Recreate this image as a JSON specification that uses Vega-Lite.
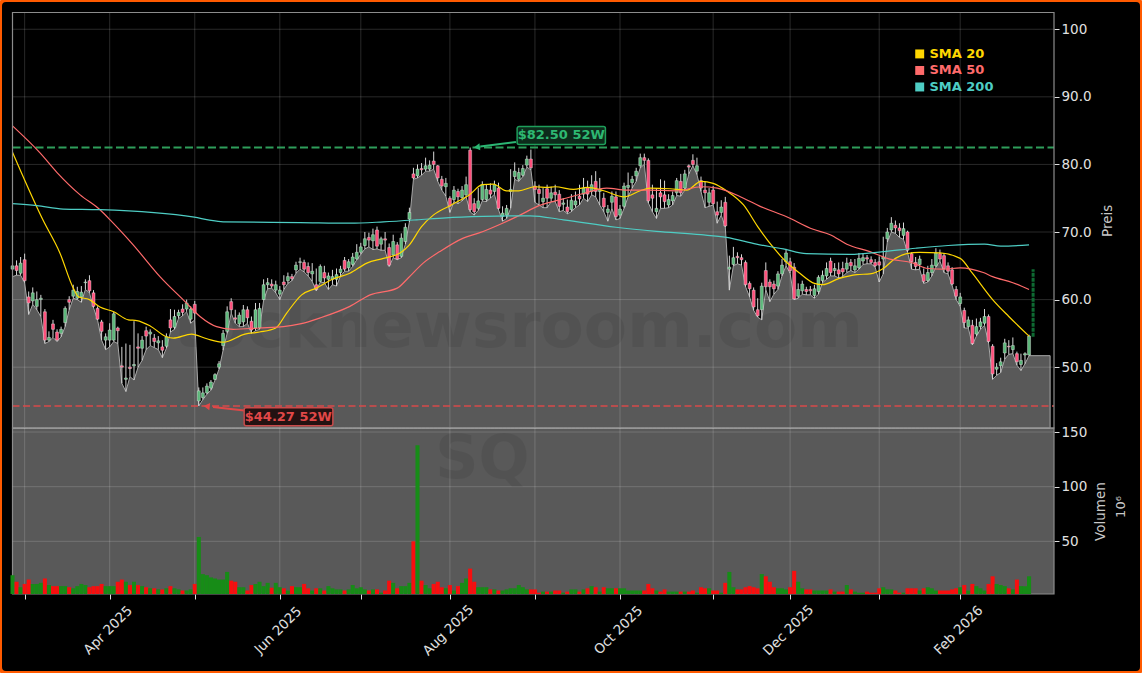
{"$schema":"https://vega.github.io/schema/vega-lite/v6.json","width":1142,"height":673,"autosize":"none","padding":0,"background":"#ffffff","view":{"fill":"#000000","stroke":"#ff5a00","strokeWidth":4,"cornerRadius":6},"config":{"font":"DejaVu Sans"},
"datasets":{"prices":[
{"i":0,"o":64.5,"h":66,"l":63.4,"c":65,"v":19},{"i":1,"o":65,"h":65.8,"l":63.6,"c":64.3,"v":13},{"i":2,"o":63.9,"h":66.3,"l":63.6,"c":65.4,"v":8},{"i":3,"o":65.9,"h":66.8,"l":62.5,"c":62.8,"v":11},{"i":4,"o":60.4,"h":61.2,"l":57.8,"c":59.5,"v":15},{"i":5,"o":59.8,"h":61.8,"l":59.3,"c":61,"v":11},{"i":6,"o":59,"h":61.2,"l":58.5,"c":60,"v":11},{"i":7,"o":60,"h":60.7,"l":57.5,"c":60.2,"v":12},{"i":8,"o":58.2,"h":58.6,"l":53.5,"c":54,"v":16},{"i":9,"o":54,"h":55.3,"l":53.8,"c":54.4,"v":10},
{"i":10,"o":56.4,"h":57,"l":54.4,"c":55.6,"v":9},{"i":11,"o":55.2,"h":55.6,"l":53.8,"c":54,"v":9},{"i":12,"o":55,"h":56,"l":54.5,"c":55.6,"v":9},{"i":13,"o":56.6,"h":59,"l":56,"c":58.7,"v":9},{"i":14,"o":60,"h":60.5,"l":58.5,"c":59.6,"v":8},{"i":15,"o":60.5,"h":62.2,"l":60.2,"c":61.4,"v":7},{"i":16,"o":60.2,"h":61.9,"l":60,"c":61.2,"v":9},{"i":17,"o":60.4,"h":62,"l":59.6,"c":61.1,"v":11},{"i":18,"o":62.5,"h":63,"l":61.5,"c":62.6,"v":10},{"i":19,"o":62.8,"h":63.6,"l":61,"c":61.3,"v":8},
{"i":20,"o":61,"h":61.4,"l":58.8,"c":59,"v":9},{"i":21,"o":58.7,"h":59,"l":57,"c":57.1,"v":9},{"i":22,"o":56.7,"h":57,"l":54,"c":55.3,"v":11},{"i":23,"o":54,"h":55,"l":52.6,"c":54.5,"v":9},{"i":24,"o":54,"h":56.5,"l":53,"c":55.5,"v":9},{"i":25,"o":54,"h":58.2,"l":53.8,"c":57.9,"v":9},{"i":26,"o":55.8,"h":56,"l":53.5,"c":55.4,"v":13},{"i":27,"o":50.2,"h":53,"l":47.6,"c":50,"v":15},{"i":28,"o":48.2,"h":53.5,"l":46.4,"c":48.4,"v":13},{"i":29,"o":50,"h":53.3,"l":48.6,"c":49.8,"v":10},
{"i":30,"o":50.2,"h":56.8,"l":48.1,"c":50.4,"v":13},{"i":31,"o":53,"h":55,"l":50,"c":52.8,"v":10},{"i":32,"o":52.8,"h":54.6,"l":51,"c":54,"v":9},{"i":33,"o":55.4,"h":56,"l":52.6,"c":54.6,"v":8},{"i":34,"o":54.9,"h":55.6,"l":53.2,"c":55.2,"v":7},{"i":35,"o":54.3,"h":54.9,"l":52.9,"c":53.8,"v":7},{"i":36,"o":53.6,"h":54.6,"l":52.6,"c":53.9,"v":6},{"i":37,"o":53,"h":54,"l":51.4,"c":52.5,"v":6},{"i":38,"o":53.1,"h":55,"l":52.8,"c":54.5,"v":7},{"i":39,"o":57,"h":58.6,"l":55.2,"c":55.8,"v":9},
{"i":40,"o":55.9,"h":58.5,"l":55.6,"c":57.5,"v":7},{"i":41,"o":57.6,"h":58.5,"l":57.2,"c":58.1,"v":6},{"i":42,"o":58.6,"h":59.3,"l":57.6,"c":58.1,"v":5},{"i":43,"o":58.6,"h":60,"l":58.2,"c":59.5,"v":5},{"i":44,"o":57.1,"h":59,"l":56.5,"c":58.6,"v":6},{"i":45,"o":59.3,"h":59.8,"l":57,"c":58,"v":11},{"i":46,"o":45,"h":47,"l":44.27,"c":46.5,"v":54},{"i":47,"o":45.5,"h":47,"l":45.2,"c":46.2,"v":20},{"i":48,"o":46.2,"h":47.6,"l":46,"c":47.2,"v":19},{"i":49,"o":46.9,"h":48.1,"l":46.6,"c":47.8,"v":17},
{"i":50,"o":48.2,"h":49.1,"l":48.1,"c":48.9,"v":16},{"i":51,"o":50,"h":50.9,"l":49.7,"c":50.5,"v":15},{"i":52,"o":53.2,"h":55.5,"l":52.5,"c":55,"v":15},{"i":53,"o":55.3,"h":59,"l":55,"c":58.2,"v":22},{"i":54,"o":59.7,"h":60.2,"l":58,"c":58.5,"v":14},{"i":55,"o":57.3,"h":58.5,"l":56.5,"c":57.1,"v":13},{"i":56,"o":56.4,"h":58.1,"l":56,"c":57.7,"v":8},{"i":57,"o":56.7,"h":59.2,"l":56,"c":58.5,"v":8},{"i":58,"o":58.5,"h":59,"l":56.5,"c":57.3,"v":5},{"i":59,"o":56.8,"h":57.5,"l":55,"c":55.5,"v":10},
{"i":60,"o":55.8,"h":59.5,"l":55.4,"c":58.5,"v":11},{"i":61,"o":55.8,"h":59.5,"l":55.6,"c":58.7,"v":13},{"i":62,"o":60,"h":63,"l":59.9,"c":62.2,"v":9},{"i":63,"o":62.2,"h":63.2,"l":61.6,"c":62.5,"v":12},{"i":64,"o":62.3,"h":63,"l":61.7,"c":62,"v":7.5},{"i":65,"o":61.4,"h":62.8,"l":61,"c":62.2,"v":12},{"i":66,"o":60.8,"h":62,"l":60,"c":61.4,"v":8},{"i":67,"o":62.6,"h":63.6,"l":61.5,"c":62.2,"v":7},{"i":68,"o":62.8,"h":64,"l":62.4,"c":63.4,"v":5},{"i":69,"o":63.4,"h":63.8,"l":62.8,"c":63.1,"v":9},
{"i":70,"o":64.4,"h":65.6,"l":63.9,"c":65.1,"v":8},{"i":71,"o":65.5,"h":66.2,"l":64.5,"c":65.6,"v":8},{"i":72,"o":65.5,"h":65.9,"l":64.1,"c":64.5,"v":11},{"i":73,"o":64.9,"h":65.5,"l":63.5,"c":64,"v":7},{"i":74,"o":63.8,"h":65.4,"l":62.7,"c":64.2,"v":5},{"i":75,"o":62.2,"h":64.6,"l":61.3,"c":61.5,"v":7},{"i":76,"o":62.7,"h":65.2,"l":62.6,"c":64.9,"v":7},{"i":77,"o":64,"h":65,"l":62.5,"c":63.2,"v":5},{"i":78,"o":63,"h":64,"l":61.5,"c":63.5,"v":9},{"i":79,"o":63,"h":64.4,"l":62.2,"c":63.4,"v":7},
{"i":80,"o":63,"h":64.6,"l":62,"c":63.7,"v":6},{"i":81,"o":64,"h":65,"l":63.5,"c":64.5,"v":6},{"i":82,"o":65.8,"h":66.3,"l":64.2,"c":64.5,"v":5},{"i":83,"o":64.7,"h":66,"l":64.2,"c":65.6,"v":6},{"i":84,"o":65.2,"h":66.9,"l":64.9,"c":66.3,"v":10},{"i":85,"o":66,"h":68.2,"l":65.9,"c":67,"v":7},{"i":86,"o":67,"h":68.4,"l":66.7,"c":67.8,"v":8},{"i":87,"o":68,"h":70,"l":67.5,"c":69,"v":6},{"i":88,"o":69.2,"h":69.9,"l":67.8,"c":68.8,"v":5},{"i":89,"o":68.7,"h":70.5,"l":67.4,"c":69.6,"v":6},
{"i":90,"o":70.3,"h":70.8,"l":67.5,"c":67.9,"v":6},{"i":91,"o":68.2,"h":69.3,"l":67.3,"c":69,"v":3},{"i":92,"o":69,"h":70,"l":67.3,"c":68.8,"v":5},{"i":93,"o":67.7,"h":68.3,"l":64.9,"c":65.1,"v":14},{"i":94,"o":66.6,"h":69.6,"l":66.2,"c":68.6,"v":12},{"i":95,"o":68.1,"h":68.5,"l":65.9,"c":66,"v":7},{"i":96,"o":66.4,"h":69.8,"l":66.2,"c":69.1,"v":9},{"i":97,"o":68.6,"h":71.3,"l":68.2,"c":70.7,"v":9},{"i":98,"o":71.9,"h":73.6,"l":71.5,"c":72.9,"v":12},{"i":99,"o":78.6,"h":79.5,"l":77.8,"c":78,"v":50},
{"i":100,"o":78.3,"h":80,"l":78,"c":79.3,"v":138},{"i":101,"o":79.4,"h":80.2,"l":78.4,"c":79.2,"v":14},{"i":102,"o":79.3,"h":81,"l":79,"c":79.8,"v":10},{"i":103,"o":79.3,"h":80.6,"l":79,"c":79.9,"v":7},{"i":104,"o":80.5,"h":81.9,"l":79.3,"c":80,"v":11},{"i":105,"o":79.8,"h":79.9,"l":77.5,"c":78,"v":13},{"i":106,"o":77.8,"h":78.3,"l":76.2,"c":76.8,"v":8},{"i":107,"o":76.7,"h":78,"l":75.3,"c":77.2,"v":7},{"i":108,"o":75,"h":75.3,"l":72.9,"c":73.8,"v":10},{"i":109,"o":74.8,"h":76.8,"l":74.5,"c":76.2,"v":5},
{"i":110,"o":76,"h":76.4,"l":74.2,"c":75.2,"v":9},{"i":111,"o":75.1,"h":76.8,"l":74.6,"c":76.2,"v":12},{"i":112,"o":75.5,"h":78.2,"l":75.2,"c":77,"v":16},{"i":113,"o":82.1,"h":82.5,"l":73,"c":73.3,"v":25},{"i":114,"o":74.2,"h":75,"l":72.5,"c":73,"v":13},{"i":115,"o":73.5,"h":76.5,"l":73.2,"c":74.6,"v":8},{"i":116,"o":74.8,"h":77.5,"l":74.6,"c":77,"v":8},{"i":117,"o":74.8,"h":77,"l":74.5,"c":76.3,"v":8},{"i":118,"o":76.2,"h":77.2,"l":75,"c":75.6,"v":6},{"i":119,"o":76,"h":77.6,"l":75.6,"c":77,"v":6},
{"i":120,"o":76.5,"h":77.3,"l":73.3,"c":73.5,"v":5},{"i":121,"o":72.3,"h":73.8,"l":71.6,"c":72.8,"v":5},{"i":122,"o":72.5,"h":74,"l":72,"c":73.5,"v":6},{"i":123,"o":76,"h":79.3,"l":73.5,"c":76.3,"v":7},{"i":124,"o":78.2,"h":80.3,"l":77.8,"c":79,"v":7},{"i":125,"o":77.8,"h":79.5,"l":77.5,"c":78.8,"v":10},{"i":126,"o":78.4,"h":79.9,"l":78.2,"c":79.4,"v":8},{"i":127,"o":79.9,"h":81.3,"l":79.6,"c":80.8,"v":6},{"i":128,"o":80.8,"h":82.2,"l":79.2,"c":79.5,"v":6},{"i":129,"o":76.8,"h":77.5,"l":74.4,"c":76.3,"v":6},
{"i":130,"o":76.3,"h":77,"l":74,"c":75.7,"v":3},{"i":131,"o":74.5,"h":76.5,"l":73.6,"c":75,"v":4},{"i":132,"o":76.4,"h":77,"l":73.6,"c":75,"v":4},{"i":133,"o":75,"h":76.7,"l":74.5,"c":75.8,"v":4},{"i":134,"o":75.9,"h":77,"l":74.5,"c":75.5,"v":5},{"i":135,"o":75.6,"h":76.2,"l":73,"c":73.8,"v":5},{"i":136,"o":74.1,"h":75,"l":73.2,"c":74.3,"v":3},{"i":137,"o":73.7,"h":74.8,"l":72.7,"c":73,"v":4},{"i":138,"o":73.3,"h":75.6,"l":73,"c":74.7,"v":6},{"i":139,"o":74,"h":76,"l":73.6,"c":74.6,"v":6},
{"i":140,"o":75.3,"h":77,"l":74,"c":74.9,"v":4},{"i":141,"o":75.6,"h":78,"l":75,"c":76.5,"v":6},{"i":142,"o":76.6,"h":77.6,"l":74.5,"c":75.6,"v":7},{"i":143,"o":76,"h":78.4,"l":75.5,"c":77,"v":9},{"i":144,"o":77.5,"h":79,"l":75.2,"c":76,"v":8},{"i":145,"o":76,"h":78,"l":74,"c":76.3,"v":4},{"i":146,"o":75,"h":75.8,"l":73,"c":73.7,"v":8},{"i":147,"o":72.9,"h":74,"l":71.6,"c":73.4,"v":7},{"i":148,"o":74.4,"h":76,"l":73.5,"c":75.3,"v":7},{"i":149,"o":75.2,"h":76,"l":71.8,"c":72.3,"v":7},
{"i":150,"o":72.5,"h":74,"l":72,"c":73.4,"v":7},{"i":151,"o":73.8,"h":77.3,"l":73.5,"c":76.8,"v":7},{"i":152,"o":76.6,"h":78.8,"l":75.2,"c":76.9,"v":5},{"i":153,"o":77.3,"h":78.3,"l":76.5,"c":77.8,"v":5},{"i":154,"o":78.3,"h":79.5,"l":77.5,"c":79,"v":5},{"i":155,"o":79.8,"h":81.6,"l":79.5,"c":81,"v":5},{"i":156,"o":81,"h":81.6,"l":80,"c":80.6,"v":5},{"i":157,"o":80.6,"h":80.9,"l":74.3,"c":74.6,"v":11},{"i":158,"o":75.5,"h":77,"l":73,"c":75,"v":7},{"i":159,"o":73,"h":76.5,"l":72,"c":73.5,"v":5},
{"i":160,"o":75.8,"h":77.8,"l":73.5,"c":75.2,"v":4},{"i":161,"o":75.5,"h":77.6,"l":73.5,"c":74.5,"v":6},{"i":162,"o":74,"h":75.6,"l":73.6,"c":74.8,"v":4},{"i":163,"o":74.6,"h":76,"l":74,"c":75.4,"v":4},{"i":164,"o":75.8,"h":78,"l":75.4,"c":77.6,"v":4},{"i":165,"o":77.5,"h":78.6,"l":75.3,"c":75.8,"v":4},{"i":166,"o":76.5,"h":79.2,"l":76.2,"c":78.6,"v":4},{"i":167,"o":79.8,"h":80,"l":78.6,"c":79.6,"v":4},{"i":168,"o":80.6,"h":81.5,"l":79.8,"c":80,"v":5},{"i":169,"o":79,"h":81,"l":78.5,"c":79.8,"v":3},
{"i":170,"o":77.6,"h":78.2,"l":76,"c":76.5,"v":8},{"i":171,"o":76.2,"h":77.5,"l":73.6,"c":75.8,"v":7},{"i":172,"o":74.4,"h":76.5,"l":73.8,"c":75.8,"v":7},{"i":173,"o":76.2,"h":76.8,"l":74,"c":74.2,"v":5},{"i":174,"o":73,"h":74.5,"l":71.3,"c":72.5,"v":5},{"i":175,"o":72.9,"h":74.7,"l":72.5,"c":73.7,"v":3},{"i":176,"o":74.4,"h":75.2,"l":70.7,"c":70.9,"v":12},{"i":177,"o":64.5,"h":66.5,"l":61.4,"c":64.8,"v":22},{"i":178,"o":65.2,"h":67.8,"l":65,"c":66.2,"v":8},{"i":179,"o":66.4,"h":67,"l":65.3,"c":66.2,"v":6},
{"i":180,"o":66.2,"h":66.7,"l":65.1,"c":65.9,"v":6},{"i":181,"o":65.5,"h":65.8,"l":61.9,"c":62.2,"v":8},{"i":182,"o":62.4,"h":62.7,"l":60.4,"c":61.6,"v":9},{"i":183,"o":61.4,"h":61.8,"l":58.4,"c":58.9,"v":8},{"i":184,"o":58.5,"h":60.2,"l":57.4,"c":57.6,"v":7},{"i":185,"o":58.5,"h":62.5,"l":57,"c":62,"v":20},{"i":186,"o":64.3,"h":65.5,"l":61.5,"c":61.9,"v":18},{"i":187,"o":62.6,"h":63,"l":59.7,"c":61.9,"v":13},{"i":188,"o":62.3,"h":62.8,"l":60.8,"c":61.6,"v":8},{"i":189,"o":62,"h":64.2,"l":61.5,"c":63.8,"v":7},
{"i":190,"o":63.8,"h":66,"l":63.5,"c":65.1,"v":7},{"i":191,"o":65.6,"h":67.5,"l":65,"c":66.9,"v":6},{"i":192,"o":65.6,"h":66.2,"l":63.9,"c":64.3,"v":8},{"i":193,"o":64.8,"h":65.4,"l":60,"c":60.1,"v":23},{"i":194,"o":60.5,"h":62.4,"l":60.2,"c":61.5,"v":13},{"i":195,"o":61.3,"h":62.8,"l":60.8,"c":62.3,"v":7},{"i":196,"o":61.5,"h":61.9,"l":60.7,"c":61.2,"v":6},{"i":197,"o":61.5,"h":62,"l":60.7,"c":61.3,"v":6},{"i":198,"o":60.6,"h":62.2,"l":60.2,"c":61.6,"v":5},{"i":199,"o":61.2,"h":63.6,"l":60.8,"c":63.3,"v":5},
{"i":200,"o":62.8,"h":64.3,"l":62.5,"c":63.6,"v":5},{"i":201,"o":63.5,"h":65.5,"l":63,"c":64.6,"v":5},{"i":202,"o":65.7,"h":66.2,"l":63.5,"c":64,"v":6},{"i":203,"o":64.3,"h":65.4,"l":63.5,"c":64.6,"v":4},{"i":204,"o":64.4,"h":65.5,"l":63.2,"c":63.8,"v":4},{"i":205,"o":64.6,"h":65.6,"l":63.4,"c":64.1,"v":4},{"i":206,"o":64.5,"h":66.2,"l":64,"c":65.4,"v":10},{"i":207,"o":65.5,"h":66,"l":64.3,"c":65,"v":6},{"i":208,"o":64.4,"h":66,"l":64,"c":65,"v":4},{"i":209,"o":64.7,"h":66.9,"l":64.5,"c":66.1,"v":3},
{"i":210,"o":65.7,"h":66.8,"l":65.2,"c":66.2,"v":3},{"i":211,"o":66.2,"h":66.6,"l":65.3,"c":66,"v":4},{"i":212,"o":65.9,"h":66.4,"l":65.3,"c":65.5,"v":3},{"i":213,"o":65.5,"h":66,"l":64.8,"c":65,"v":3},{"i":214,"o":65.6,"h":66.4,"l":62.6,"c":65.1,"v":7},{"i":215,"o":66,"h":69.3,"l":63.8,"c":66.3,"v":8},{"i":216,"o":69,"h":70.6,"l":68.5,"c":70,"v":6},{"i":217,"o":70.3,"h":72.2,"l":70,"c":71.3,"v":6},{"i":218,"o":71,"h":71.7,"l":69.8,"c":70.6,"v":5},{"i":219,"o":70.6,"h":71.3,"l":69.2,"c":70.2,"v":3},
{"i":220,"o":69.5,"h":71.4,"l":68.9,"c":70.5,"v":3},{"i":221,"o":70,"h":70.2,"l":67,"c":67.3,"v":7},{"i":222,"o":66.8,"h":67,"l":64.5,"c":65.6,"v":7},{"i":223,"o":65.5,"h":66.3,"l":64.4,"c":64.9,"v":7},{"i":224,"o":65.2,"h":66.5,"l":64.5,"c":66,"v":5},{"i":225,"o":63.7,"h":64.6,"l":62.4,"c":62.7,"v":7},{"i":226,"o":62.8,"h":65,"l":62.6,"c":64,"v":8},{"i":227,"o":64,"h":66,"l":63.5,"c":65.1,"v":7},{"i":228,"o":65,"h":67.6,"l":64.8,"c":66.9,"v":5},{"i":229,"o":66.8,"h":67.4,"l":65.7,"c":66,"v":5},
{"i":230,"o":66.5,"h":66.9,"l":64,"c":64.6,"v":5},{"i":231,"o":65,"h":65.5,"l":63.8,"c":64.2,"v":5},{"i":232,"o":64.4,"h":64.8,"l":62.1,"c":62.3,"v":6},{"i":233,"o":61.5,"h":62,"l":60,"c":60.5,"v":7},{"i":234,"o":59.4,"h":61,"l":59,"c":60.4,"v":8},{"i":235,"o":58.4,"h":58.8,"l":55.8,"c":56.6,"v":10},{"i":236,"o":56,"h":57.5,"l":55.8,"c":57,"v":5},{"i":237,"o":56.2,"h":57,"l":53.3,"c":53.5,"v":11},{"i":238,"o":54.9,"h":57.2,"l":54.6,"c":56,"v":9},{"i":239,"o":56,"h":57.3,"l":55.6,"c":56.7,"v":7},
{"i":240,"o":56.5,"h":58.6,"l":56.2,"c":57.5,"v":5},{"i":241,"o":57.5,"h":57.8,"l":53.6,"c":53.8,"v":11},{"i":242,"o":53.1,"h":53.4,"l":48.2,"c":49,"v":18},{"i":243,"o":49.7,"h":50.6,"l":48.8,"c":50,"v":11},{"i":244,"o":50.2,"h":51.4,"l":49.2,"c":50.8,"v":10},{"i":245,"o":52.1,"h":54.2,"l":51.2,"c":53.6,"v":9},{"i":246,"o":53.1,"h":54,"l":51.9,"c":53,"v":7},{"i":247,"o":52.6,"h":54.4,"l":52,"c":53.2,"v":6},{"i":248,"o":52,"h":52.3,"l":50.3,"c":50.8,"v":15},{"i":249,"o":50.4,"h":52,"l":49.5,"c":51,"v":9},
{"i":250,"o":51.8,"h":52.2,"l":50.5,"c":52,"v":9},{"i":251,"o":51.8,"h":54.8,"l":51.7,"c":54.6,"v":18},{"i":256.2,"l":51.7}
],
"sma":[
{"s":"SMA 20","i":0,"p":81.8},{"s":"SMA 20","i":7.5,"p":71.8},{"s":"SMA 20","i":11.7,"p":66.9},{"s":"SMA 20","i":15,"p":61.7},{"s":"SMA 20","i":16.3,"p":60.4},{"s":"SMA 20","i":19,"p":60},{"s":"SMA 20","i":21.6,"p":58.9},{"s":"SMA 20","i":25,"p":58.2},{"s":"SMA 20","i":28.6,"p":57},{"s":"SMA 20","i":30.7,"p":56.9},{"s":"SMA 20","i":34,"p":56.1},{"s":"SMA 20","i":38,"p":54.5},{"s":"SMA 20","i":39.7,"p":54.3},{"s":"SMA 20","i":44.2,"p":54.9},{"s":"SMA 20","i":48,"p":54.2},{"s":"SMA 20","i":52,"p":53.7},{"s":"SMA 20","i":57.4,"p":54.9},{"s":"SMA 20","i":61,"p":55.2},{"s":"SMA 20","i":65,"p":55.8},{"s":"SMA 20","i":67.7,"p":58},{"s":"SMA 20","i":71.4,"p":60.7},{"s":"SMA 20","i":75,"p":61.7},{"s":"SMA 20","i":79,"p":63},{"s":"SMA 20","i":83.3,"p":63.9},{"s":"SMA 20","i":87.5,"p":65.4},{"s":"SMA 20","i":91.6,"p":66.1},{"s":"SMA 20","i":95.7,"p":66.9},{"s":"SMA 20","i":98,"p":68.1},{"s":"SMA 20","i":101,"p":70.8},{"s":"SMA 20","i":103.9,"p":72.5},{"s":"SMA 20","i":108,"p":73.9},{"s":"SMA 20","i":113,"p":75.6},{"s":"SMA 20","i":116,"p":77},{"s":"SMA 20","i":118.7,"p":77.1},{"s":"SMA 20","i":122,"p":76.1},{"s":"SMA 20","i":125,"p":76.1},{"s":"SMA 20","i":129,"p":76.7},{"s":"SMA 20","i":132,"p":76.6},{"s":"SMA 20","i":134,"p":76.7},{"s":"SMA 20","i":138.5,"p":76.3},{"s":"SMA 20","i":142,"p":76.6},{"s":"SMA 20","i":146,"p":76.1},{"s":"SMA 20","i":151,"p":75.2},{"s":"SMA 20","i":155,"p":76.1},{"s":"SMA 20","i":157.4,"p":76.5},{"s":"SMA 20","i":162.3,"p":76.4},{"s":"SMA 20","i":166.5,"p":76.2},{"s":"SMA 20","i":170,"p":77.5},{"s":"SMA 20","i":173,"p":77.2},{"s":"SMA 20","i":176.3,"p":76.1},{"s":"SMA 20","i":180.5,"p":74},{"s":"SMA 20","i":184,"p":70.8},{"s":"SMA 20","i":188,"p":67.6},{"s":"SMA 20","i":191,"p":65.6},{"s":"SMA 20","i":194.4,"p":63.9},{"s":"SMA 20","i":198,"p":62.4},{"s":"SMA 20","i":200,"p":62.2},{"s":"SMA 20","i":204,"p":63.1},{"s":"SMA 20","i":208.5,"p":63.7},{"s":"SMA 20","i":211.7,"p":63.8},{"s":"SMA 20","i":215,"p":64.6},{"s":"SMA 20","i":218,"p":66.1},{"s":"SMA 20","i":220.8,"p":66.8},{"s":"SMA 20","i":224,"p":67},{"s":"SMA 20","i":229,"p":66.9},{"s":"SMA 20","i":234,"p":66.1},{"s":"SMA 20","i":237,"p":63.9},{"s":"SMA 20","i":242,"p":60},{"s":"SMA 20","i":246,"p":57.5},{"s":"SMA 20","i":251,"p":54.6},
{"s":"SMA 50","i":0,"p":85.7},{"s":"SMA 50","i":6.8,"p":81.7},{"s":"SMA 50","i":11,"p":78.8},{"s":"SMA 50","i":16.7,"p":75.5},{"s":"SMA 50","i":21.6,"p":73.3},{"s":"SMA 50","i":24.1,"p":71.8},{"s":"SMA 50","i":29.8,"p":68.1},{"s":"SMA 50","i":36.4,"p":63.4},{"s":"SMA 50","i":42.6,"p":59.7},{"s":"SMA 50","i":46.3,"p":57.5},{"s":"SMA 50","i":50.4,"p":56},{"s":"SMA 50","i":54.5,"p":55.6},{"s":"SMA 50","i":61,"p":55.8},{"s":"SMA 50","i":66.9,"p":56},{"s":"SMA 50","i":71,"p":56.4},{"s":"SMA 50","i":76,"p":57.3},{"s":"SMA 50","i":83.3,"p":59},{"s":"SMA 50","i":88.3,"p":60.7},{"s":"SMA 50","i":95,"p":61.7},{"s":"SMA 50","i":97.7,"p":63.2},{"s":"SMA 50","i":101.4,"p":65.4},{"s":"SMA 50","i":105.5,"p":67.1},{"s":"SMA 50","i":111.3,"p":69.1},{"s":"SMA 50","i":115.4,"p":69.9},{"s":"SMA 50","i":121,"p":71.3},{"s":"SMA 50","i":125.3,"p":72.5},{"s":"SMA 50","i":130,"p":73.9},{"s":"SMA 50","i":136,"p":74.9},{"s":"SMA 50","i":141,"p":75.7},{"s":"SMA 50","i":146.7,"p":76.5},{"s":"SMA 50","i":151.7,"p":76.2},{"s":"SMA 50","i":157.4,"p":76.2},{"s":"SMA 50","i":164,"p":76.1},{"s":"SMA 50","i":170,"p":76.7},{"s":"SMA 50","i":174,"p":76.5},{"s":"SMA 50","i":180.5,"p":75},{"s":"SMA 50","i":184.6,"p":73.8},{"s":"SMA 50","i":191,"p":72.3},{"s":"SMA 50","i":197.7,"p":70.4},{"s":"SMA 50","i":201.9,"p":69.6},{"s":"SMA 50","i":206,"p":68.2},{"s":"SMA 50","i":211.7,"p":67.1},{"s":"SMA 50","i":216,"p":66.1},{"s":"SMA 50","i":222.4,"p":65.4},{"s":"SMA 50","i":226,"p":64.6},{"s":"SMA 50","i":230,"p":64.5},{"s":"SMA 50","i":234,"p":64.7},{"s":"SMA 50","i":239.7,"p":64},{"s":"SMA 50","i":242,"p":63.4},{"s":"SMA 50","i":247,"p":62.5},{"s":"SMA 50","i":251,"p":61.5},
{"s":"SMA 200","i":0,"p":74.2},{"s":"SMA 200","i":6,"p":73.9},{"s":"SMA 200","i":12.5,"p":73.4},{"s":"SMA 200","i":21.6,"p":73.3},{"s":"SMA 200","i":44.9,"p":72.2},{"s":"SMA 200","i":48.3,"p":71.8},{"s":"SMA 200","i":52,"p":71.5},{"s":"SMA 200","i":71,"p":71.4},{"s":"SMA 200","i":83.3,"p":71.3},{"s":"SMA 200","i":91.6,"p":71.5},{"s":"SMA 200","i":99.8,"p":71.8},{"s":"SMA 200","i":107,"p":72.1},{"s":"SMA 200","i":116.3,"p":72.3},{"s":"SMA 200","i":127.8,"p":72.4},{"s":"SMA 200","i":136,"p":71.8},{"s":"SMA 200","i":149,"p":70.7},{"s":"SMA 200","i":159,"p":70.1},{"s":"SMA 200","i":170,"p":69.6},{"s":"SMA 200","i":176.3,"p":69.2},{"s":"SMA 200","i":183.7,"p":68.2},{"s":"SMA 200","i":190.3,"p":67.5},{"s":"SMA 200","i":196,"p":66.8},{"s":"SMA 200","i":206.8,"p":66.7},{"s":"SMA 200","i":215,"p":67.1},{"s":"SMA 200","i":223,"p":67.6},{"s":"SMA 200","i":231,"p":68},{"s":"SMA 200","i":240,"p":68.2},{"s":"SMA 200","i":244,"p":67.9},{"s":"SMA 200","i":251,"p":68.1}
],
"months":[{"i":3},{"i":24},{"i":45},{"i":66},{"i":86},{"i":108},{"i":129},{"i":150},{"i":173},{"i":192},{"i":214},{"i":234}]},
"data":{"name":"prices"},
"encoding":{"x":{"field":"i","type":"quantitative","title":null,"scale":{"domain":[0,257.16],"range":[12.5,1054],"nice":false,"zero":false,"padding":0},"axis":{"title":null,"grid":false,"domain":false,"values":[3,24,45,66,86,108,129,150,173,192,214,234],"labelExpr":"{'24':'Apr 2025','66':'Jun 2025','108':'Aug 2025','150':'Oct 2025','192':'Dec 2025','234':'Feb 2026'}[datum.value] || ''","labelAngle":-45,"labelAlign":"center","labelBaseline":"middle","labelPadding":31,"labelOffset":-2,"labelFontSize":13.5,"labelColor":"#e0e0e0","labelOverlap":false,"labelBound":false,"labelFlush":false,"tickColor":"#e0e0e0","tickSize":5,"offset":-79}}},
"layer":[
{"layer":[
{"mark":{"type":"area","fill":"#ffffff","fillOpacity":0.35,"stroke":"#a8a8a8","strokeWidth":1},"encoding":{"y":{"field":"l","type":"quantitative","title":"Preis","scale":{"domain":[41,102.48],"range":[428,12.5],"nice":false,"zero":false},"axis":{"orient":"right","offset":-88,"grid":false,"domain":false,"values":[50,60,70,80,90,100],"labelExpr":"datum.value == 100 ? '100' : format(datum.value, '.1f')","labelFontSize":13.5,"labelColor":"#e0e0e0","tickColor":"#e0e0e0","tickSize":5,"titleColor":"#c8c8c8","titleFontSize":13.5,"titleFontWeight":"normal","titleAngle":-90,"titlePadding":23}},"y2":{"datum":41}}},
{"data":{"values":[{"i":210,"p":55.8,"name":"stocknewsroom.com"}]},"mark":{"type":"text","font":"DejaVu Sans","fontWeight":"bold","fontSize":63,"align":"right","baseline":"middle","color":"#000000","opacity":0.07},"encoding":{"y":{"field":"p","type":"quantitative"},"text":{"field":"name"}}},
{"data":{"name":"months"},"mark":{"type":"rule","stroke":"#ffffff","strokeOpacity":0.16,"strokeWidth":1},"encoding":{"y":{"datum":41,"type":"quantitative"},"y2":{"datum":102.48}}},
{"data":{"values":[{"i":0,"i2":257.16,"level":50},{"i":0,"i2":257.16,"level":60},{"i":0,"i2":257.16,"level":70},{"i":0,"i2":257.16,"level":80},{"i":0,"i2":257.16,"level":90},{"i":0,"i2":257.16,"level":100}]},"mark":{"type":"rule","stroke":"#ffffff","strokeOpacity":0.16,"strokeWidth":1},"encoding":{"x2":{"field":"i2"},"y":{"field":"level","type":"quantitative"}}},
{"data":{"values":[{"i":0,"i2":257.16,"level":82.5}]},"mark":{"type":"rule","stroke":"#2e9e5b","strokeWidth":2,"strokeDash":[8,3.5]},"encoding":{"x2":{"field":"i2"},"y":{"field":"level","type":"quantitative"}}},
{"data":{"values":[{"i":0,"i2":257.16,"level":44.27}]},"mark":{"type":"rule","stroke":"#d84a4a","strokeWidth":1.5,"strokeDash":[7,3.5]},"encoding":{"x2":{"field":"i2"},"y":{"field":"level","type":"quantitative"}}},
{"transform":[{"filter":"datum.i <= 251"}],"mark":{"type":"rule","stroke":"#d8d8d8","strokeWidth":1},"encoding":{"y":{"field":"h","type":"quantitative"},"y2":{"field":"l"}}},
{"transform":[{"filter":"datum.i <= 251"}],"mark":{"type":"bar","size":3,"stroke":"#eeeeee","strokeWidth":0.4},"encoding":{"y":{"field":"o","type":"quantitative"},"y2":{"field":"c"},"color":{"condition":{"test":"datum.c >= datum.o","value":"#5cb87a"},"value":"#ff4f7b"}}},
{"data":{"values":[{"i":252,"from":54.5,"to":64.5}]},"mark":{"type":"rule","stroke":"#0e6a32","strokeWidth":3,"strokeDash":[4,1]},"encoding":{"y":{"field":"from","type":"quantitative"},"y2":{"field":"to"}}},
{"data":{"name":"sma"},"mark":{"type":"line","strokeWidth":1.2,"interpolate":"monotone"},"encoding":{"y":{"field":"p","type":"quantitative"},"detail":{"field":"s"},"color":{"field":"s","type":"nominal","sort":null,"scale":{"domain":["SMA 20","SMA 50","SMA 200"],"range":["#ffd700","#ff6b6b","#4ecdc4"]},"legend":null}}},
{"data":{"values":[{"i":224,"p":96.35,"s":"SMA 20"},{"i":224,"p":93.9,"s":"SMA 50"},{"i":224,"p":91.46,"s":"SMA 200"}]},"mark":{"type":"point","shape":"square","filled":true,"size":80,"opacity":1},"encoding":{"y":{"field":"p","type":"quantitative"},"color":{"field":"s","type":"nominal","sort":null,"legend":null}}},
{"data":{"values":[{"i":226.4,"p":96.35,"s":"SMA 20"},{"i":226.4,"p":93.9,"s":"SMA 50"},{"i":226.4,"p":91.46,"s":"SMA 200"}]},"mark":{"type":"text","font":"DejaVu Sans","fontWeight":"bold","fontSize":13,"align":"left","baseline":"middle"},"encoding":{"y":{"field":"p","type":"quantitative"},"text":{"field":"s"},"color":{"field":"s","type":"nominal","sort":null,"legend":null}}},
{"data":{"values":[{"tail":124.3,"tip":115.5,"from":83.33,"to":82.65}]},"mark":{"type":"rule","stroke":"#2bb673","strokeWidth":2},"encoding":{"x":{"field":"tail","type":"quantitative"},"x2":{"field":"tip"},"y":{"field":"from","type":"quantitative"},"y2":{"field":"to"}}},
{"data":{"values":[{"i":114.9,"p":82.58}]},"mark":{"type":"point","shape":"triangle","filled":true,"size":50,"angle":263,"color":"#2bb673","opacity":1},"encoding":{"y":{"field":"p","type":"quantitative"}}},
{"data":{"values":[{"tail":57.2,"tip":49.5,"from":43.6,"to":44.1}]},"mark":{"type":"rule","stroke":"#e04848","strokeWidth":2},"encoding":{"x":{"field":"tail","type":"quantitative"},"x2":{"field":"tip"},"y":{"field":"from","type":"quantitative"},"y2":{"field":"to"}}},
{"data":{"values":[{"i":48.2,"p":44.2}]},"mark":{"type":"point","shape":"triangle","filled":true,"size":50,"angle":277,"color":"#e04848","opacity":1},"encoding":{"y":{"field":"p","type":"quantitative"}}},
{"data":{"values":[{"left":124.6,"right":146.4,"top":85.62,"bottom":82.96}]},"mark":{"type":"rect","fill":"#0d2b1b","stroke":"#1e9e5a","strokeWidth":1.5,"cornerRadius":2},"encoding":{"x":{"field":"left","type":"quantitative"},"x2":{"field":"right"},"y":{"field":"top","type":"quantitative"},"y2":{"field":"bottom"}}},
{"data":{"values":[{"i":135.5,"p":84.29,"label":"$82.50 52W"}]},"mark":{"type":"text","font":"DejaVu Sans","fontWeight":"bold","fontSize":13,"color":"#2eb872"},"encoding":{"y":{"field":"p","type":"quantitative"},"text":{"field":"label"}}},
{"data":{"values":[{"left":57.2,"right":79.1,"top":43.98,"bottom":41.32}]},"mark":{"type":"rect","fill":"#241212","stroke":"#c94a4a","strokeWidth":1.5,"cornerRadius":2},"encoding":{"x":{"field":"left","type":"quantitative"},"x2":{"field":"right"},"y":{"field":"top","type":"quantitative"},"y2":{"field":"bottom"}}},
{"data":{"values":[{"i":68.1,"p":42.65,"label":"$44.27 52W"}]},"mark":{"type":"text","font":"DejaVu Sans","fontWeight":"bold","fontSize":13,"color":"#e04848"},"encoding":{"y":{"field":"p","type":"quantitative"},"text":{"field":"label"}}},
{"data":{"values":[{"i":0,"i2":257.16,"lo":41,"hi":102.48}]},"mark":{"type":"rect","filled":false,"stroke":"#8c8c8c","strokeWidth":1.2},"encoding":{"x2":{"field":"i2"},"y":{"field":"lo","type":"quantitative"},"y2":{"field":"hi"}}}
]},
{"layer":[
{"data":{"values":[{"i":0,"i2":257.16,"lo":1.8,"hi":153.7}]},"mark":{"type":"rect","fill":"#ffffff","fillOpacity":0.35,"stroke":"#8c8c8c","strokeWidth":1.2},"encoding":{"x2":{"field":"i2"},"y":{"field":"lo","type":"quantitative","title":"Volumen","scale":{"domain":[1.8,153.7],"range":[594,428],"nice":false,"zero":false},"axis":{"orient":"right","offset":-88,"grid":false,"domain":false,"values":[50,100,150],"labelFontSize":13.5,"labelColor":"#e0e0e0","tickColor":"#e0e0e0","tickSize":5,"titleColor":"#c8c8c8","titleFontSize":13.5,"titleFontWeight":"normal","titleAngle":-90,"titlePadding":21}},"y2":{"field":"hi"}}},
{"data":{"values":[{"i":116,"p":124,"name":"SQ"}]},"mark":{"type":"text","font":"DejaVu Sans","fontWeight":"bold","fontSize":60,"baseline":"middle","color":"#000000","opacity":0.07},"encoding":{"y":{"field":"p","type":"quantitative"},"text":{"field":"name"}}},
{"data":{"name":"months"},"mark":{"type":"rule","stroke":"#ffffff","strokeOpacity":0.16,"strokeWidth":1},"encoding":{"y":{"datum":1.8,"type":"quantitative"},"y2":{"datum":153.7}}},
{"data":{"values":[{"i":0,"i2":257.16,"level":50},{"i":0,"i2":257.16,"level":100},{"i":0,"i2":257.16,"level":150}]},"mark":{"type":"rule","stroke":"#ffffff","strokeOpacity":0.16,"strokeWidth":1},"encoding":{"x2":{"field":"i2"},"y":{"field":"level","type":"quantitative"}}},
{"transform":[{"filter":"datum.i <= 251"}],"mark":{"type":"bar","size":4.05},"encoding":{"y":{"field":"v","type":"quantitative"},"y2":{"datum":1.8},"color":{"condition":{"test":"datum.c >= datum.o","value":"#178c17"},"value":"#f80f0f"}}},
{"data":{"values":[{"i":273.7,"p":81.4,"label":"10⁶"}]},"mark":{"type":"text","font":"DejaVu Sans","fontSize":13,"angle":270,"color":"#c8c8c8"},"encoding":{"y":{"field":"p","type":"quantitative"},"text":{"field":"label"}}}
]}
],
"resolve":{"scale":{"y":"independent"},"axis":{"y":"independent"}}}
